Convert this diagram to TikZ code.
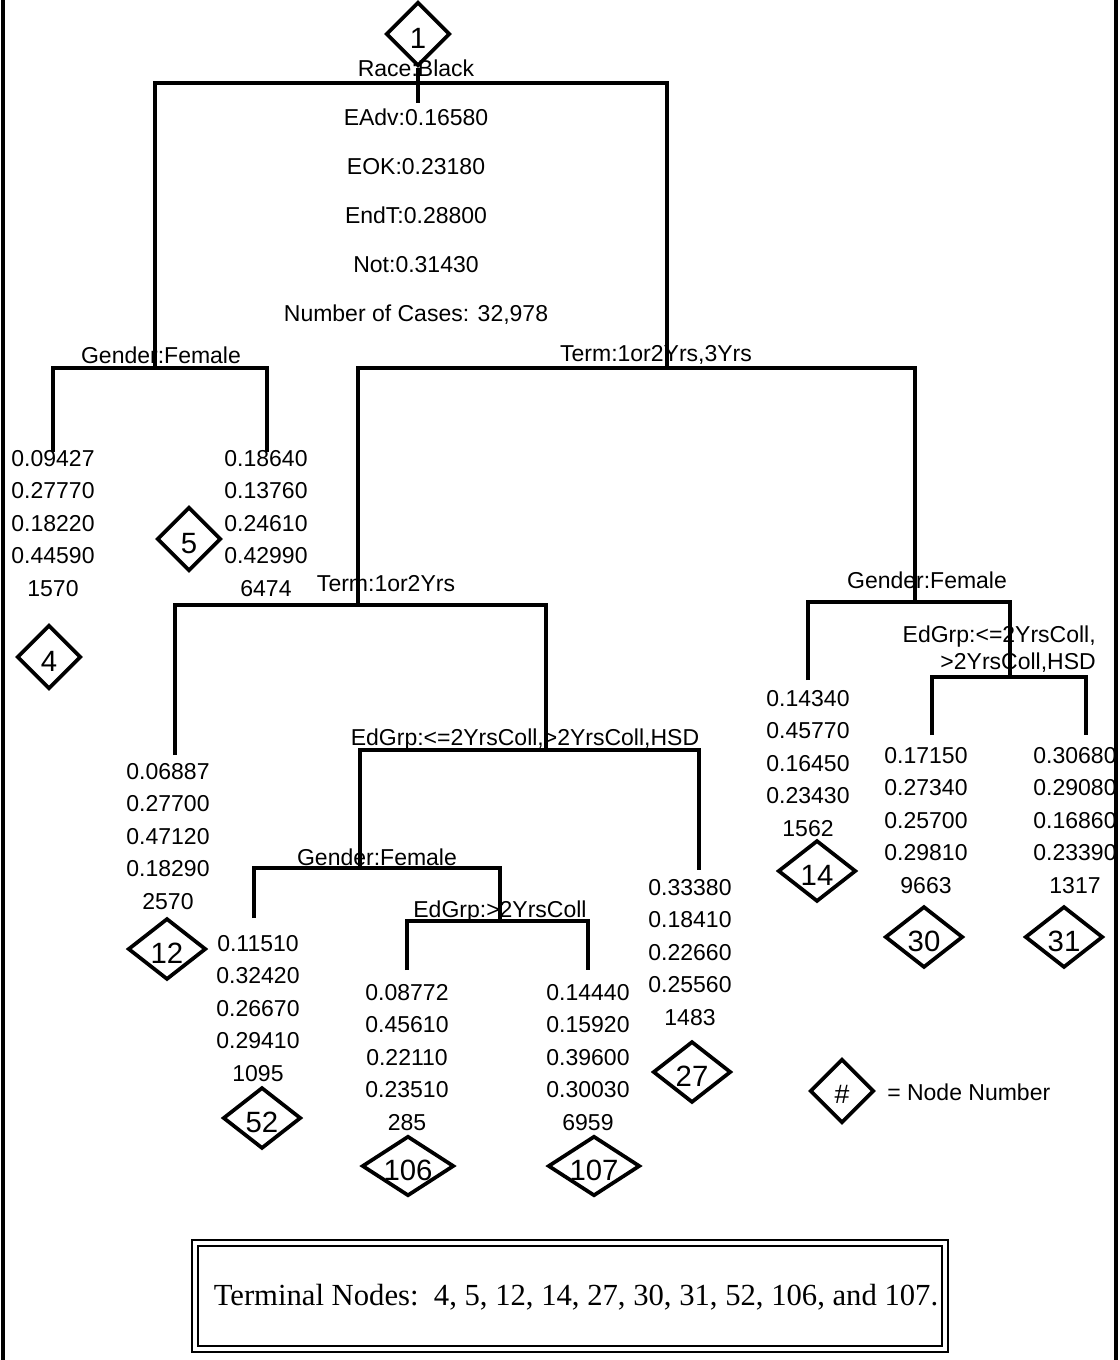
\documentclass[tikz,border=0pt]{standalone}
\usepackage{fontspec}
\setmainfont{Liberation Sans}
\newfontfamily\serifface{Liberation Serif}
\usetikzlibrary{shapes.geometric}
\begin{document}
\begin{tikzpicture}[x=0.75pt,y=-0.75pt,
  tree/.style={line width=2.3pt, line join=miter},
  txt/.style={inner sep=0pt, font=\fontsize{17.25pt}{24.4pt}\selectfont},
  lbl/.style={txt, anchor=base},
  stack/.style={txt, align=center, anchor=north},
  dia/.style={diamond, draw, line width=2.8pt, inner sep=0pt, minimum width=48pt, minimum height=48pt},
  wdia/.style={dia, minimum width=58.5pt, minimum height=46pt},
  xdia/.style={dia, minimum width=69pt, minimum height=45pt},
  dnum/.style={font=\fontsize{22pt}{26pt}\selectfont, inner sep=0pt, yshift=-3.5pt},
]
\useasboundingbox (0,0) rectangle (1120,1360);

% page frame
\draw[line width=2.3pt] (3,0) -- (3,1360);
\draw[line width=2.3pt] (1116,0) -- (1116,1360);

% split and end points
\coordinate (s1) at (418,83);
\coordinate (t1) at (418,103);
\coordinate (s2) at (155,368);
\coordinate (s3) at (667,368);
\coordinate (e4) at (53,452);
\coordinate (e5) at (267,452);
\coordinate (s6) at (358,605);
\coordinate (s7) at (915,602);
\coordinate (e12) at (175,755);
\coordinate (s13) at (546,750);
\coordinate (s26) at (360,868);
\coordinate (e27) at (699,870);
\coordinate (e52) at (254,918);
\coordinate (s53) at (500,921);
\coordinate (e106) at (407,970);
\coordinate (e107) at (588,970);
\coordinate (e14) at (808,680);
\coordinate (s15) at (1010,677);
\coordinate (e30) at (932,735);
\coordinate (e31) at (1086,735);

% root diamond
\node[dia, label={[dnum]center:1}] (n1) at (418,34) {};

% tree connectors
\draw[tree] (n1) -- (t1);
\draw[tree] (s2) |- (s1) -| (s3);
\draw[tree] (e4) |- (s2) -| (e5);
\draw[tree] (s6) |- (s3) -| (s7);
\draw[tree] (e12) |- (s6) -| (s13);
\draw[tree] (s26) |- (s13) -| (e27);
\draw[tree] (e52) |- (s26) -| (s53);
\draw[tree] (e106) |- (s53) -| (e107);
\draw[tree] (e14) |- (s7) -| (s15);
\draw[tree] (e30) |- (s15) -| (e31);

% split labels
\node[lbl] (lRace) at (416,76) {Race:Black};
\node[lbl] (lG1) at (161,363) {Gender:Female};
\node[lbl] (lT1) at (656,361) {Term:1or2Yrs,3Yrs};
\node[lbl] (lT2) at (386,591) {Term:1or2Yrs};
\node[lbl] (lE1) at (525,745) {EdGrp:<=2YrsColl,>2YrsColl,HSD};
\node[lbl] (lG2) at (377,865) {Gender:Female};
\node[lbl] (lE2) at (500,917) {EdGrp:>2YrsColl};
\node[lbl] (lG3) at (927,588) {Gender:Female};
\node[txt, align=right, anchor=north east, font=\fontsize{17.25pt}{20.25pt}\selectfont] (lE3) at (1096,626) {EdGrp:<=2YrsColl,\\>2YrsColl,HSD};

% root information
\node[txt, align=center, anchor=north, font=\fontsize{17.25pt}{36.75pt}\selectfont] (info) at (416,109)
  {EAdv:0.16580\\EOK:0.23180\\EndT:0.28800\\Not:0.31430\\Number of Cases: 32,978};

% leaves
\node[stack] (d4) at (53,450) {0.09427\\0.27770\\0.18220\\0.44590\\1570};
\node[dia, label={[dnum]center:4}] (n4) at (49,657) {};

\node[stack] (d5) at (266,450) {0.18640\\0.13760\\0.24610\\0.42990\\6474};
\node[dia, label={[dnum]center:5}] (n5) at (189,539) {};

\node[stack] (d12) at (168,763) {0.06887\\0.27700\\0.47120\\0.18290\\2570};
\node[wdia, label={[dnum]center:12}] (n12) at (167,949) {};

\node[stack] (d52) at (258,935) {0.11510\\0.32420\\0.26670\\0.29410\\1095};
\node[wdia, label={[dnum]center:52}] (n52) at (262,1118) {};

\node[stack] (d106) at (407,984) {0.08772\\0.45610\\0.22110\\0.23510\\285};
\node[xdia, label={[dnum]center:106}] (n106) at (408,1166) {};

\node[stack] (d107) at (588,984) {0.14440\\0.15920\\0.39600\\0.30030\\6959};
\node[xdia, label={[dnum]center:107}] (n107) at (594,1166) {};

\node[stack] (d27) at (690,879) {0.33380\\0.18410\\0.22660\\0.25560\\1483};
\node[wdia, label={[dnum]center:27}] (n27) at (692,1072) {};

\node[stack] (d14) at (808,690) {0.14340\\0.45770\\0.16450\\0.23430\\1562};
\node[wdia, label={[dnum]center:14}] (n14) at (817,871) {};

\node[stack] (d30) at (926,747) {0.17150\\0.27340\\0.25700\\0.29810\\9663};
\node[wdia, label={[dnum]center:30}] (n30) at (924,937) {};

\node[stack] (d31) at (1075,747) {0.30680\\0.29080\\0.16860\\0.23390\\1317};
\node[wdia, label={[dnum]center:31}] (n31) at (1064,937) {};

% legend
\node[dia, label={[dnum, font=\fontsize{20pt}{24pt}\selectfont, yshift=1pt]center:\#}] (nleg) at (842,1091) {};
\node[txt, anchor=base west] (legtxt) at (887,1100) {= Node Number};

% terminal nodes box
\node[draw, double, line width=1.2pt, double distance=3.3pt, minimum width=562.5pt, minimum height=79.5pt, inner sep=0pt] (tbox) at (570,1296) {};
\node[inner sep=0pt, anchor=base, font=\serifface\fontsize{23pt}{27pt}\selectfont] (ttext) at (576,1305)
  {Terminal Nodes:\ \ 4, 5, 12, 14, 27, 30, 31, 52, 106, and 107.};
\end{tikzpicture}
\end{document}
